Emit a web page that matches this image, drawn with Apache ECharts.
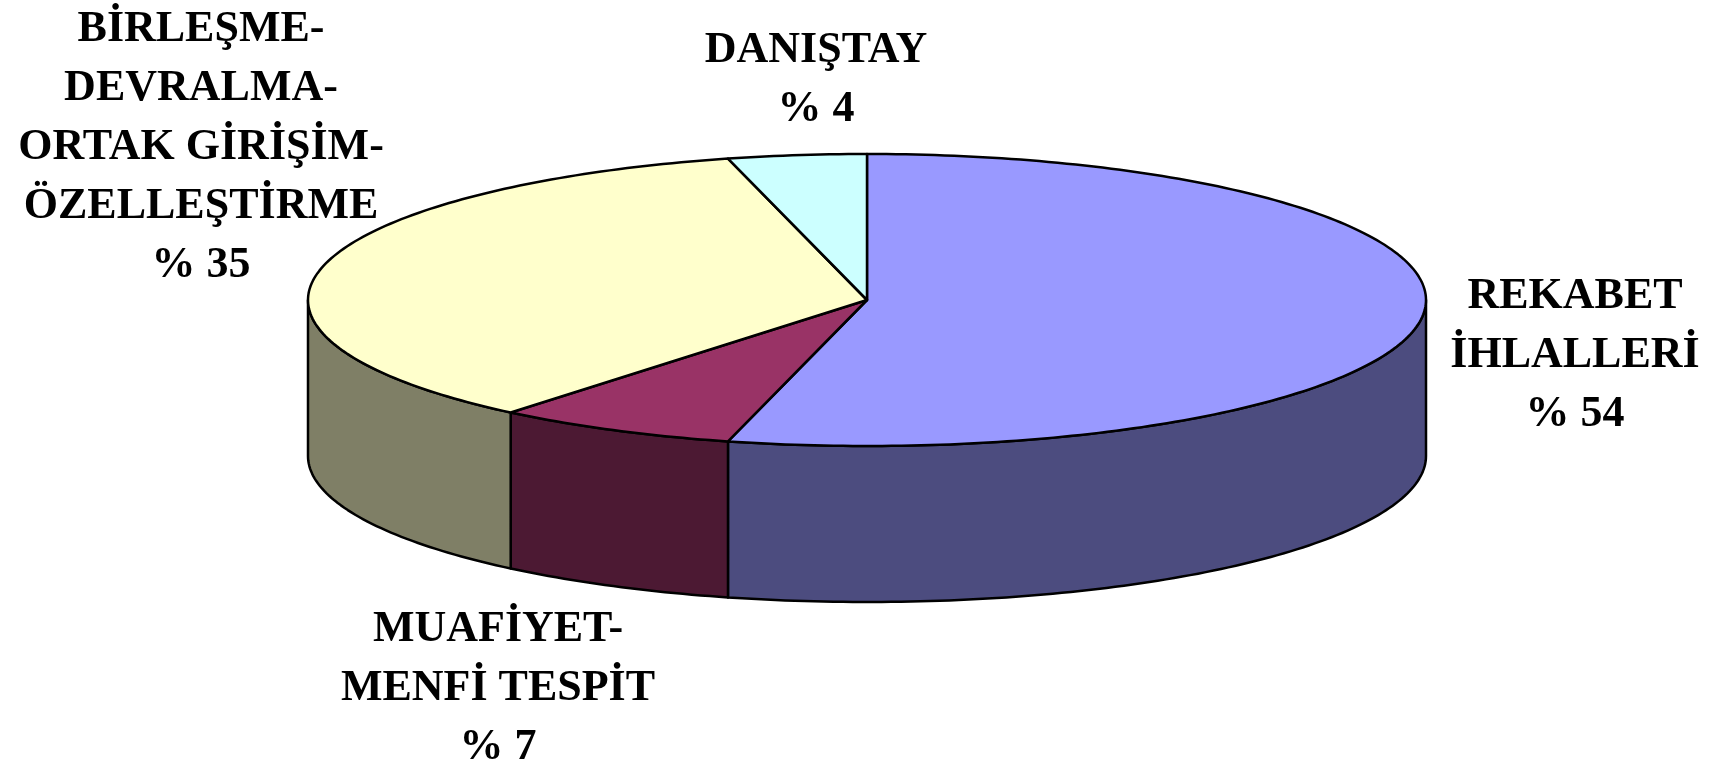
<!DOCTYPE html>
<html>
<head>
<meta charset="utf-8">
<script src="https://cdn.jsdelivr.net/npm/echarts@6.0.0/dist/echarts.min.js"></script>
<style>
  html, body { margin: 0; padding: 0; background: #fff; }
  #main { width: 1717px; height: 769px; }
</style>
</head>
<body>
<div id="main"></div>
<script>
var categories = ['REKABET\nİHLALLERİ', 'MUAFİYET-\nMENFİ TESPİT', 'BİRLEŞME-\nDEVRALMA-\nORTAK GİRİŞİM-\nÖZELLEŞTİRME', 'DANIŞTAY'];
var values = [54, 7, 35, 4];

var topColors = ['#9999ff', '#993366', '#ffffcc', '#ccffff'];
var sideColors = ['#4c4c7f', '#4c1933', '#7f7f66', '#667f7f'];

// label block centres (manual placement like the original)
var labelPos = [[1575, 356], [498, 689], [201, 148], [816, 80]];

// pie geometry: centre, radii of the tilted ellipse, wall depth
var cx = 867, cy = 300, rx = 559, ry = 146, depth = 156;

var total = values.reduce(function (s, v) { return s + v; }, 0);
var starts = [];
var acc = 0;
values.forEach(function (v) { starts.push(acc / total * 360); acc += v; });

function pt(deg, dy) {
  var t = deg * Math.PI / 180;
  return [cx + rx * Math.sin(t), cy - ry * Math.cos(t) + (dy || 0)];
}

function arc(a1, a2, dy) {
  var pts = [];
  var n = Math.max(2, Math.ceil(Math.abs(a2 - a1)));
  for (var i = 0; i <= n; i++) {
    pts.push(pt(a1 + (a2 - a1) * i / n, dy));
  }
  return pts;
}

var dom = document.getElementById('main');
var myChart = echarts.init(dom, null, { renderer: 'canvas' });

var option = {
  animation: false,
  series: [
    {
      type: 'custom',
      coordinateSystem: 'none',
      silent: true,
      data: values,
      renderItem: function (params, api) {
        var i = params.dataIndex;
        var a1 = starts[i];
        var a2 = a1 + values[i] / total * 360;
        var children = [];

        // front wall (only the part facing the viewer, 90..270 deg)
        var s = Math.max(a1, 90), e = Math.min(a2, 270);
        if (s < e) {
          var wall = arc(s, e, 0).concat(arc(e, s, depth));
          children.push({
            type: 'polygon',
            z2: 1,
            shape: { points: wall },
            style: { fill: sideColors[i], stroke: '#000', lineWidth: 2.5, lineJoin: 'round' }
          });
        }

        // top face
        var top = [[cx, cy]].concat(arc(a1, a2, 0));
        children.push({
          type: 'polygon',
          z2: 2,
          shape: { points: top },
          style: { fill: topColors[i], stroke: '#000', lineWidth: 2.5, lineJoin: 'round' }
        });

        children.push({
          type: 'text',
          z2: 3,
          x: labelPos[i][0],
          y: labelPos[i][1],
          style: {
            text: categories[i] + '\n% ' + values[i],
            fill: '#000',
            font: 'bold 44px "Liberation Serif", "Times New Roman", serif',
            align: 'center',
            verticalAlign: 'middle',
            lineHeight: 59
          }
        });

        return { type: 'group', children: children };
      }
    }
  ]
};

myChart.setOption(option);
window.addEventListener('resize', myChart.resize);
</script>
</body>
</html>
